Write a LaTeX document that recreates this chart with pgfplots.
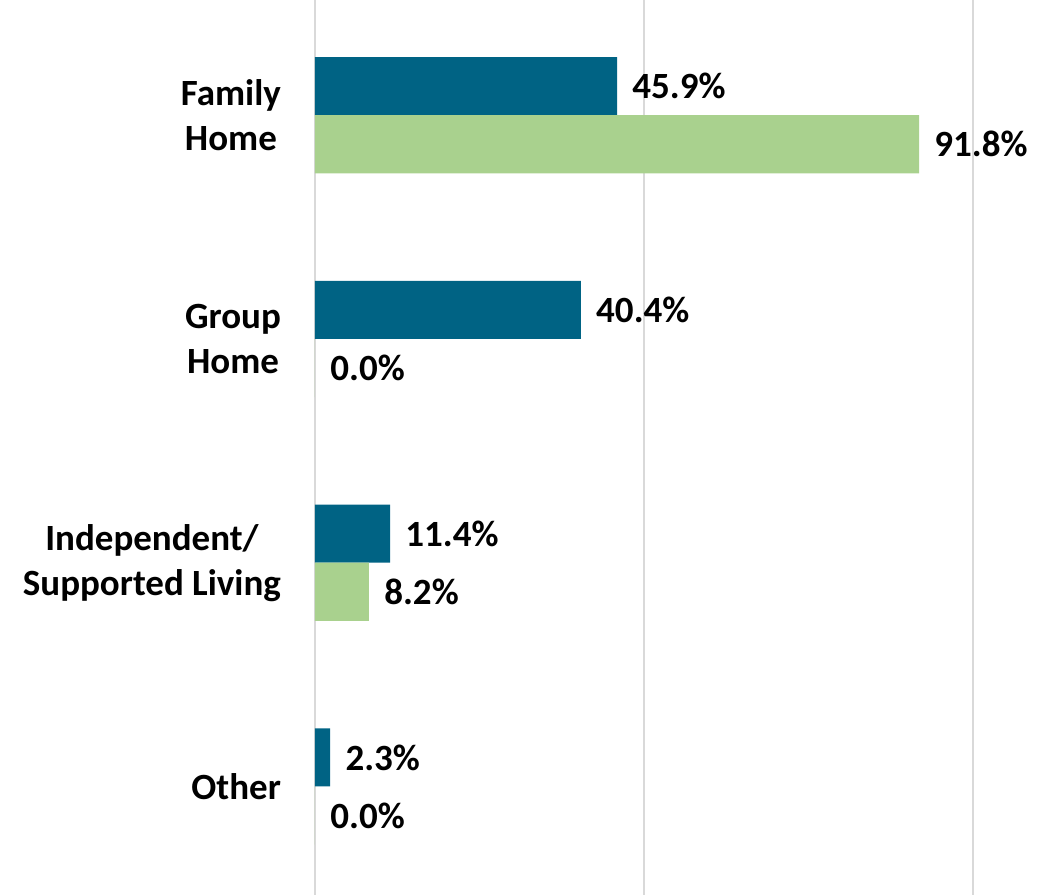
\documentclass[border=0pt]{standalone}
\usepackage{pgfplots}
\pgfplotsset{compat=1.18}
\usepackage{fontspec}
\setmainfont{Carlito}
\definecolor{barblue}{HTML}{006384}
\definecolor{bargreen}{HTML}{A9D18E}
\definecolor{gridgray}{HTML}{D9D9D9}
\begin{document}
\begin{tikzpicture}
\begin{axis}[
  at={(0,0)}, anchor=south west,
  scale only axis,
  width=329pt, height=447.5pt,
  xmin=0, xmax=100,
  ymin=-0.515, ymax=3.485,
  y dir=reverse,
  xbar,
  bar width=0.26,
  axis line style={draw=none},
  xtick={0,50,100}, xticklabels={},
  xmajorgrids,
  major grid style={gridgray, line width=1pt},
  major tick length=0pt,
  ytick={0,1,2,3},
  yticklabels={{Family\\Home},{Group\\Home},{Independent/\\Supported Living},{Other}},
  yticklabel style={align=center, font=\fontsize{18.5}{22.5}\selectfont\bfseries, xshift=-13.5pt},
  /pgf/number format/assume math mode=true,
  nodes near coords={\pgfmathprintnumber[fixed, fixed zerofill, precision=1, assume math mode=true]{\pgfplotspointmeta}\%},
  nodes near coords style={anchor=west, inner sep=0pt, xshift=7.5pt, font=\fontsize{18.5}{22.5}\selectfont\bfseries, text=black},
  clip=false,
]
\addplot[fill=barblue, draw=none, bar shift=-0.13] coordinates {(45.9,0) (40.4,1) (11.4,2) (2.3,3)};
\addplot[fill=bargreen, draw=none, bar shift=0.13] coordinates {(91.8,0) (0,1) (8.2,2) (0,3)};
\end{axis}
\pgfresetboundingbox
\path (-157.5pt,0pt) rectangle (366.5pt,447.5pt);
\end{tikzpicture}
\end{document}
